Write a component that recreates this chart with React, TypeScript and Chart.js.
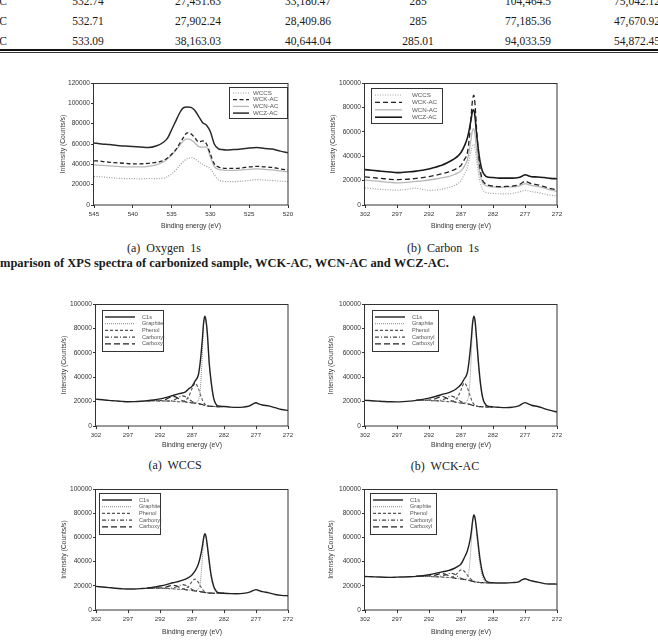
import React, { useEffect, useRef } from "react";
import { Chart, registerables } from "chart.js";

Chart.register(...registerables);

const SANS = '"Liberation Sans", Arial, Helvetica, sans-serif';
const SERIF = '"Liberation Serif", "Times New Roman", Times, serif';

// ---- table rows above the figure ----
const sampleNames = ["WCK-AC", "WCN-AC", "WCZ-AC"];
const colO1sPeak = ["532.74", "532.71", "533.09"];
const colO1sB = ["27,451.63", "27,902.24", "38,163.03"];
const colO1sC = ["33,180.47", "28,409.86", "40,644.04"];
const colC1sPeak = ["285", "285", "285.01"];
const colC1sB = ["104,464.5", "77,185.36", "94,033.59"];
const colC1sC = ["75,042.12", "47,670.92", "54,872.45"];

// ---- O 1s survey ----
const o1sTicks = [545, 540, 535, 530, 525, 520];
const o1sEnergy = [545, 544, 543, 542, 541, 540, 539, 538, 537, 536, 535.5, 535, 534.5, 534, 533.5, 533, 532.5, 532, 531.5, 531, 530.5, 530, 529.5, 529, 528.5, 528, 527, 526, 525, 524, 523, 522, 521, 520];
const o1sWCCS = [28000, 27700, 27000, 26300, 26000, 26000, 25600, 26100, 26000, 26500, 28000, 30500, 34000, 38500, 42500, 45500, 46500, 45500, 42500, 40000, 38000, 35500, 30000, 25000, 23500, 23000, 23000, 23500, 24000, 25000, 24500, 24000, 23500, 23000];
const o1sWCK = [43500, 43000, 42000, 41500, 41000, 40500, 40500, 41000, 42000, 44000, 46500, 50000, 54000, 60000, 66000, 71000, 70000, 66000, 62000, 63000, 60000, 50000, 40500, 37500, 36500, 36000, 36000, 36500, 37500, 38000, 37500, 37000, 35500, 34500];
const o1sWCN = [39500, 39000, 38500, 38000, 37500, 37500, 37500, 38000, 39500, 42500, 45500, 49000, 53500, 58000, 63000, 65000, 64000, 61000, 57500, 57000, 57000, 47000, 38000, 35000, 34500, 34000, 34000, 34500, 35000, 35500, 35000, 34500, 33500, 32500];
const o1sWCZ = [61000, 60000, 59500, 58500, 58000, 57500, 57000, 56500, 58000, 62000, 66000, 74000, 82000, 90000, 95500, 96500, 96000, 93000, 87000, 81000, 78500, 72000, 60000, 55500, 54500, 54000, 54500, 55000, 56000, 56500, 55500, 55000, 53000, 51500];

// ---- C 1s survey and fitted envelopes ----
const c1sTicks = [302, 297, 292, 287, 282, 277, 272];
const cEnergy = [302, 301, 300, 299, 298, 297, 296, 295, 294, 293, 292, 291, 290, 289, 288, 287.5, 287, 286.5, 286, 285.7, 285.4, 285.2, 285, 284.8, 284.6, 284.3, 284, 283.6, 283.2, 283, 282, 281, 280, 279, 278, 277.5, 277, 276.5, 276, 275, 274, 273, 272];
const c1sWCCS = [14000, 13500, 13000, 12600, 12300, 12200, 12500, 13200, 13800, 12800, 12000, 12300, 13000, 14200, 16000, 17500, 20000, 25000, 31000, 38000, 45000, 49000, 49500, 45500, 38000, 27000, 18500, 12500, 10500, 10000, 9500, 9200, 9200, 9500, 10500, 11300, 12000, 11500, 11000, 10200, 9000, 8000, 7600];
const c1sWCK = [23000, 22500, 22000, 21500, 21000, 20800, 21000, 21300, 21800, 22500, 23300, 24300, 25500, 27000, 29000, 30500, 32500, 37000, 43000, 55000, 74000, 86000, 90000, 82000, 65000, 44000, 29000, 20000, 17500, 16800, 15500, 15000, 15200, 15500, 16500, 18000, 19500, 18500, 17500, 16500, 15000, 13500, 12500];
const c1sWCN = [20500, 20000, 19500, 19000, 18500, 18200, 18400, 18800, 19300, 19800, 20500, 21300, 22200, 23300, 25000, 26300, 28000, 31500, 37000, 45000, 55000, 61500, 62500, 57000, 47000, 34000, 24500, 18000, 16200, 15600, 14800, 14500, 14600, 14800, 15500, 16500, 17500, 16800, 16000, 15200, 13800, 12300, 11200];
const c1sWCZ = [29000, 28500, 28000, 27500, 27000, 26500, 26800, 27200, 27800, 28500, 29500, 31000, 32500, 35000, 38000, 40000, 43000, 48000, 55000, 62000, 71000, 77000, 78000, 72000, 60000, 46000, 35000, 27000, 24000, 23200, 22500, 22000, 22000, 22000, 22500, 23500, 24800, 24000, 23200, 23000, 22500, 21800, 21500];

const fitA_C1s = [22000, 21500, 21000, 20600, 20200, 19900, 20000, 20300, 20700, 21300, 22200, 23500, 25000, 26500, 28000, 30500, 32500, 37000, 42000, 53000, 70000, 84000, 90000, 86000, 76000, 51000, 36000, 22500, 17500, 16500, 16000, 15500, 15300, 15500, 16500, 18000, 19000, 18000, 17200, 16500, 15000, 13500, 12800];
const fitB_C1s = [21000, 20700, 20400, 20100, 19900, 19800, 20000, 20400, 21000, 21800, 22800, 24200, 25800, 27200, 29500, 31500, 34000, 38500, 44000, 55000, 71000, 84000, 90000, 86000, 74000, 54000, 37000, 23000, 18000, 16800, 15700, 15300, 15100, 15400, 16500, 18000, 19200, 18200, 17000, 16000, 14300, 12800, 11500];
const fitC_C1s = [19500, 19000, 18500, 18000, 17600, 17300, 17400, 17700, 18100, 18800, 19800, 21000, 22500, 23800, 25500, 27000, 29000, 32500, 38000, 44000, 52000, 59000, 63000, 60500, 53000, 40000, 28500, 19500, 15500, 14500, 13800, 13500, 13400, 13700, 14800, 16000, 16800, 16000, 15200, 14200, 12800, 12100, 11800];
const fitD_C1s = [27700, 27500, 27300, 27100, 27000, 27200, 27300, 27500, 27800, 28300, 29100, 30300, 31500, 32500, 34500, 36000, 38000, 43000, 49000, 55000, 64000, 73000, 78500, 76000, 68000, 54000, 41000, 30000, 25000, 23800, 22500, 22300, 22300, 22600, 23300, 24800, 25800, 25000, 24200, 23000, 21800, 21500, 21400];

// ---- fitted components (on their background) ----
const compEnergy = [294, 293, 292, 291, 290.5, 290, 289.5, 289, 288.5, 288, 287.5, 287, 286.5, 286, 285.7, 285.4, 285.2, 285, 284.8, 284.6, 284.3, 284, 283.6, 283.2, 283, 282];

const fitA_Graphite = [20700, 20700, 20600, 20500, 20400, 20300, 20100, 19900, 19700, 19500, 19300, 19000, 19000, 21300, 30000, 57600, 81200, 88900, 85600, 72400, 50200, 35100, 22000, 17400, 16500, 16000];
const fitA_Phenol = [20700, 20700, 20600, 20500, 20400, 20300, 20100, 19900, 20000, 21000, 24300, 30500, 35000, 30800, 26000, 21600, 19400, 18000, 17100, 16600, 16200, 16100, 16000, 15900, 15900, 16000];
const fitA_Carbonyl = [20700, 20700, 20600, 20500, 20600, 21100, 22100, 23700, 24700, 24000, 22100, 20200, 19100, 18400, 18000, 17600, 17200, 16900, 16600, 16400, 16200, 16100, 16000, 15900, 15900, 16000];
const fitA_Carboxyl = [20700, 20700, 20900, 22000, 23400, 24300, 23700, 22100, 20700, 19800, 19300, 19000, 18700, 18300, 18000, 17600, 17200, 16900, 16600, 16400, 16200, 16100, 16000, 15900, 15900, 16000];

const fitB_Graphite = [21000, 21000, 20900, 20700, 20600, 20400, 20200, 20000, 19800, 19500, 19200, 18900, 18700, 21000, 29500, 57000, 81000, 89500, 85500, 72000, 50000, 34500, 21500, 17200, 16300, 15700];
const fitB_Phenol = [21000, 21000, 20900, 20700, 20600, 20400, 20200, 20000, 20100, 21000, 24000, 29500, 35200, 31500, 26500, 22000, 19500, 18000, 17000, 16500, 16000, 15900, 15800, 15700, 15700, 15700];
const fitB_Carbonyl = [21000, 21000, 20900, 20700, 20800, 21300, 22300, 23800, 24500, 23600, 21800, 20000, 18900, 18200, 17800, 17400, 17000, 16700, 16400, 16200, 16000, 15900, 15800, 15700, 15700, 15700];
const fitB_Carboxyl = [21000, 21000, 21200, 22300, 23500, 24200, 23600, 22000, 20700, 19800, 19200, 18900, 18500, 18100, 17800, 17400, 17000, 16700, 16400, 16200, 16000, 15900, 15800, 15700, 15700, 15700];

const fitC_Graphite = [18100, 18100, 18000, 17800, 17700, 17500, 17300, 17100, 16900, 16700, 16400, 16100, 16000, 17400, 23000, 41000, 56500, 62500, 60000, 51000, 37000, 26500, 18000, 15000, 14300, 13800];
const fitC_Phenol = [18100, 18100, 18000, 17800, 17700, 17500, 17300, 17100, 17200, 17800, 19700, 23500, 25500, 22800, 19800, 17300, 16000, 15200, 14700, 14300, 14000, 13900, 13800, 13800, 13800, 13800];
const fitC_Carbonyl = [18100, 18100, 18000, 17800, 17900, 18300, 19000, 20200, 21000, 20400, 18800, 17000, 16100, 15500, 15200, 14900, 14700, 14500, 14300, 14100, 14000, 13900, 13800, 13800, 13800, 13800];
const fitC_Carboxyl = [18100, 18100, 18200, 19000, 19900, 20500, 20000, 18800, 17600, 16900, 16400, 16100, 15800, 15400, 15200, 14900, 14700, 14500, 14300, 14100, 14000, 13900, 13800, 13800, 13800, 13800];

const fitD_Graphite = [27800, 27800, 27700, 27500, 27400, 27200, 27000, 26800, 26500, 26200, 25900, 25600, 25500, 27500, 35000, 55000, 72000, 78000, 75000, 65500, 49500, 36500, 26500, 23500, 22900, 22500];
const fitD_Phenol = [27800, 27800, 27700, 27500, 27400, 27200, 27000, 26900, 27000, 28200, 30800, 33200, 32000, 28800, 26800, 25200, 24400, 23900, 23400, 23100, 22800, 22700, 22600, 22500, 22500, 22500];
const fitD_Carbonyl = [27800, 27800, 27700, 27500, 27600, 28000, 28800, 29800, 30300, 29500, 27700, 26200, 25400, 24900, 24500, 24100, 23800, 23500, 23200, 23000, 22800, 22700, 22600, 22500, 22500, 22500];
const fitD_Carboxyl = [27800, 27800, 28000, 28800, 29700, 30200, 29700, 28500, 27200, 26400, 25900, 25600, 25200, 24800, 24500, 24100, 23800, 23500, 23200, 23000, 22800, 22700, 22600, 22500, 22500, 22500];

type Series = { label: string; energy: number[]; counts: number[]; color: string; width: number; dash: number[] };
type Key = { x: number; y: number; w: number; h: number; s0: number; s1: number; tx: number; r0: number; gap: number; font: number };
type Panel = {
  id: string; left: number; top: number; right: number; bottom: number;
  yTitleX: number; xTitleY: number; xMin: number; xMax: number; xTicks: number[]; yMax: number;
  series: Series[]; key: Key;
};

const surveyO = (label: string, counts: number[], color: string, width: number, dash: number[]): Series =>
  ({ label, energy: o1sEnergy, counts, color, width, dash });
const surveyC = (label: string, counts: number[], color: string, width: number, dash: number[]): Series =>
  ({ label, energy: cEnergy, counts, color, width, dash });

function fitSeries(env: number[], gr: number[], ph: number[], cy: number[], cx: number[]): Series[] {
  return [
    { label: "C1s", energy: cEnergy, counts: env, color: "#222", width: 1.4, dash: [] },
    { label: "Graphite", energy: compEnergy, counts: gr, color: "#8a8a8a", width: 1, dash: [1, 1] },
    { label: "Phenol", energy: compEnergy, counts: ph, color: "#555", width: 1.1, dash: [3, 2] },
    { label: "Carbonyl", energy: compEnergy, counts: cy, color: "#444", width: 1.1, dash: [4, 2, 1, 2] },
    { label: "Carboxyl", energy: compEnergy, counts: cx, color: "#222", width: 1.2, dash: [6, 3] },
  ];
}

const fitKey = (x: number, y: number, w: number): Key => ({ x, y, w, h: 41, s0: 3, s1: 33, tx: 40, r0: 7, gap: 6.7, font: 5.6 });

const panels: Panel[] = [
  {
    id: "o1s", left: 94, top: 83, right: 288, bottom: 205, yTitleX: 63, xTitleY: 226,
    xMin: 520, xMax: 545, xTicks: o1sTicks, yMax: 120000,
    series: [
      surveyO("WCCS", o1sWCCS, "#9a9a9a", 1.2, [1, 1.5]),
      surveyO("WCK-AC", o1sWCK, "#222", 1.3, [4, 2.5]),
      surveyO("WCN-AC", o1sWCN, "#b8b8b8", 1.3, []),
      surveyO("WCZ-AC", o1sWCZ, "#2a2a2a", 1.5, []),
    ],
    key: { x: 135, y: 4, w: 58, h: 31, s0: 4, s1: 20, tx: 24, r0: 6, gap: 6.7, font: 6.2 },
  },
  {
    id: "c1s", left: 365, top: 83, right: 557, bottom: 205, yTitleX: 333, xTitleY: 226,
    xMin: 272, xMax: 302, xTicks: c1sTicks, yMax: 100000,
    series: [
      surveyC("WCCS", c1sWCCS, "#a0a0a0", 1.2, [1, 1.5]),
      surveyC("WCK-AC", c1sWCK, "#222", 1.3, [5, 3]),
      surveyC("WCN-AC", c1sWCN, "#b8b8b8", 1.3, []),
      surveyC("WCZ-AC", c1sWCZ, "#1a1a1a", 1.6, []),
    ],
    key: { x: 6, y: 5, w: 71, h: 35, s0: 4, s1: 31, tx: 41, r0: 7, gap: 7.4, font: 6.2 },
  },
  {
    id: "fitA", left: 96, top: 304, right: 288, bottom: 426, yTitleX: 64, xTitleY: 445,
    xMin: 272, xMax: 302, xTicks: c1sTicks, yMax: 100000,
    series: fitSeries(fitA_C1s, fitA_Graphite, fitA_Phenol, fitA_Carbonyl, fitA_Carboxyl),
    key: fitKey(6, 6, 61),
  },
  {
    id: "fitB", left: 365, top: 304, right: 557, bottom: 426, yTitleX: 331, xTitleY: 445,
    xMin: 272, xMax: 302, xTicks: c1sTicks, yMax: 100000,
    series: fitSeries(fitB_C1s, fitB_Graphite, fitB_Phenol, fitB_Carbonyl, fitB_Carboxyl),
    key: fitKey(7, 6, 66),
  },
  {
    id: "fitC", left: 96, top: 489, right: 288, bottom: 610, yTitleX: 64, xTitleY: 632,
    xMin: 272, xMax: 302, xTicks: c1sTicks, yMax: 100000,
    series: fitSeries(fitC_C1s, fitC_Graphite, fitC_Phenol, fitC_Carbonyl, fitC_Carboxyl),
    key: fitKey(3, 4, 61),
  },
  {
    id: "fitD", left: 365, top: 489, right: 557, bottom: 610, yTitleX: 331, xTitleY: 632,
    xMin: 272, xMax: 302, xTicks: c1sTicks, yMax: 100000,
    series: fitSeries(fitD_C1s, fitD_Graphite, fitD_Phenol, fitD_Carbonyl, fitD_Carboxyl),
    key: fitKey(5, 4, 66),
  },
];

// plot frame drawn on all four sides
const framePlugin = {
  id: "frame",
  afterDraw(chart: any) {
    const { ctx, chartArea: a } = chart;
    ctx.save();
    ctx.setLineDash([]);
    ctx.strokeStyle = "#333";
    ctx.lineWidth = 1;
    ctx.strokeRect(Math.round(a.left) - 0.5, Math.round(a.top) + 0.5, Math.round(a.right - a.left) + 0.5, Math.round(a.bottom - a.top) - 0.5);
    ctx.restore();
  },
};

// boxed key inside the plot area
const keyPlugin = (k: Key) => ({
  id: "boxKey",
  afterDraw(chart: any) {
    const { ctx, chartArea: a } = chart;
    const bx = Math.round(a.left + k.x);
    const by = Math.round(a.top + k.y);
    ctx.save();
    ctx.fillStyle = "#fff";
    ctx.fillRect(bx, by, k.w, k.h);
    ctx.setLineDash([]);
    ctx.strokeStyle = "#333";
    ctx.lineWidth = 1;
    ctx.strokeRect(bx + 0.5, by + 0.5, k.w, k.h);
    chart.data.datasets.forEach((ds: any, i: number) => {
      const yy = by + k.r0 + i * k.gap;
      ctx.beginPath();
      ctx.setLineDash(ds.borderDash || []);
      ctx.strokeStyle = ds.borderColor;
      ctx.lineWidth = ds.borderWidth;
      ctx.moveTo(bx + k.s0, yy);
      ctx.lineTo(bx + k.s1, yy);
      ctx.stroke();
      ctx.setLineDash([]);
      ctx.fillStyle = "#555";
      ctx.font = `${k.font}px ${SANS}`;
      ctx.textBaseline = "middle";
      ctx.textAlign = "left";
      ctx.fillText(ds.label, bx + k.tx, yy);
    });
    ctx.restore();
  },
});

function SpectrumChart({ p }: { p: Panel }) {
  const ref = useRef<HTMLCanvasElement>(null);
  const cl = p.yTitleX - 4;
  const ct = p.top - 8;
  const yW = p.left - cl;
  const xH = p.xTitleY + 4 - p.bottom;
  const cw = p.right - cl + 14;
  const ch = p.bottom - ct + xH + 2;

  useEffect(() => {
    if (!ref.current) return;
    const tickFont = { family: SANS, size: 6.6 };
    const titleFont = { family: SANS, size: 6.8 };
    const chart = new Chart(ref.current, {
      type: "line",
      data: {
        datasets: p.series.map((s) => ({
          label: s.label,
          data: s.energy.map((e, i) => ({ x: e, y: s.counts[i] })),
          borderColor: s.color,
          borderWidth: s.width,
          borderDash: s.dash,
          pointRadius: 0,
          fill: false,
          cubicInterpolationMode: "monotone" as const,
        })),
      },
      options: {
        animation: false,
        responsive: false,
        devicePixelRatio: 1,
        events: [],
        layout: { padding: { left: 0, top: 8, right: 14, bottom: 2 } },
        plugins: { legend: { display: false }, tooltip: { enabled: false } },
        scales: {
          x: {
            type: "linear",
            reverse: true,
            min: p.xMin,
            max: p.xMax,
            afterBuildTicks: (s: any) => {
              s.ticks = p.xTicks.map((v) => ({ value: v }));
            },
            afterFit: (s: any) => {
              s.height = xH;
            },
            ticks: {
              font: { family: SANS, size: 6.2 },
              color: "#333",
              padding: 3,
              autoSkip: false,
              maxRotation: 0,
              minRotation: 0,
              callback: (v: any) => String(v),
            },
            grid: { display: true, drawOnChartArea: false, drawTicks: true, tickLength: 3, color: "#333" },
            border: { display: false },
            title: { display: true, text: "Binding energy (eV)", font: titleFont, color: "#333", padding: 0 },
          },
          y: {
            min: 0,
            max: p.yMax,
            afterFit: (s: any) => {
              s.width = yW;
            },
            ticks: {
              stepSize: 20000,
              font: tickFont,
              color: "#333",
              padding: 1,
              callback: (v: any) => String(v),
            },
            grid: { display: true, drawOnChartArea: false, drawTicks: true, tickLength: 3, color: "#333" },
            border: { display: false },
            title: { display: true, text: "Intensity (Counts/s)", font: titleFont, color: "#333", padding: 0 },
          },
        },
      },
      plugins: [framePlugin, keyPlugin(p.key)],
    } as any);
    return () => chart.destroy();
  }, []);

  return (
    <canvas
      ref={ref}
      width={cw}
      height={ch}
      style={{ position: "absolute", left: cl, top: ct, width: cw, height: ch }}
    />
  );
}

type LabelProps = { x: number; base: number; size: number; align?: "left" | "center" | "right"; bold?: boolean; sx?: number; children: React.ReactNode };

function Label({ x, base, size, align = "center", bold = false, sx = 1, children }: LabelProps) {
  const shift = align === "center" ? "-50%" : align === "right" ? "-100%" : "0";
  const origin = align === "center" ? "50% 50%" : align === "right" ? "100% 50%" : "0 50%";
  return (
    <div
      style={{
        position: "absolute",
        left: x,
        top: base - 0.84 * size,
        fontFamily: SERIF,
        fontSize: size,
        lineHeight: `${size}px`,
        fontWeight: bold ? 700 : 400,
        whiteSpace: "pre",
        color: "#1a1a1a",
        transform: `translateX(${shift}) scaleX(${sx})`,
        transformOrigin: origin,
      }}
    >
      {children}
    </div>
  );
}

const colCenters = [88, 198, 308, 418, 528, 637];
const rowBaselines = [5, 25, 45];
const captionWords = ["mparison", "of", "XPS", "spectra", "of", "carbonized", "sample,", "WCK-AC,", "WCN-AC", "and", "WCZ-AC."];

export default function App() {
  const columns = [colO1sPeak, colO1sB, colO1sC, colC1sPeak, colC1sB, colC1sC];
  return (
    <div style={{ position: "absolute", left: 0, top: 0, width: 658, height: 644, overflow: "hidden", background: "#fff" }}>
      {rowBaselines.map((b, r) => (
        <React.Fragment key={r}>
          <Label x={7} base={b} size={12.5} align="right" sx={0.92}>{sampleNames[r]}</Label>
          {columns.map((col, c) => (
            <Label key={c} x={colCenters[c]} base={b} size={12.5} sx={0.92}>{col[r]}</Label>
          ))}
        </React.Fragment>
      ))}
      <div style={{ position: "absolute", left: 0, top: 48.5, width: 658, height: 2.5, background: "#111" }} />
      <div style={{ position: "absolute", left: 0, top: 52, width: 658, height: 1, background: "#333" }} />

      {panels.map((p) => (
        <SpectrumChart key={p.id} p={p} />
      ))}

      <Label x={164} base={252} size={12}>{"(a)  Oxygen  1s"}</Label>
      <Label x={443} base={252} size={12}>{"(b)  Carbon  1s"}</Label>
      <div
        style={{
          position: "absolute",
          left: 0,
          top: 267 - 0.84 * 12.5,
          width: 449,
          display: "flex",
          justifyContent: "space-between",
          fontFamily: SERIF,
          fontSize: 12.5,
          lineHeight: "12.5px",
          fontWeight: 700,
          color: "#1a1a1a",
          whiteSpace: "nowrap",
        }}
      >
        {captionWords.map((w, i) => (
          <span key={i}>{w}</span>
        ))}
      </div>
      <Label x={175} base={469} size={12}>{"(a)  WCCS"}</Label>
      <Label x={445} base={470} size={12}>{"(b)  WCK-AC"}</Label>
    </div>
  );
}
